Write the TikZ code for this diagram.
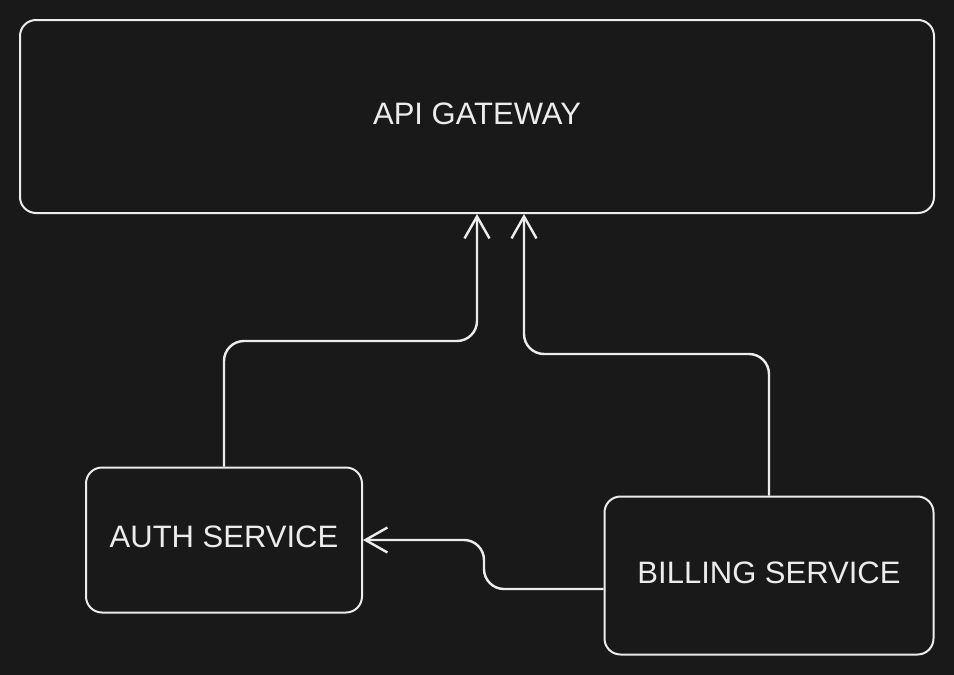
\documentclass[tikz,border=0pt]{standalone}
\usepackage{fontspec}
\setmainfont{Liberation Sans}
\usetikzlibrary{arrows.meta}
\definecolor{bgdark}{HTML}{191919}
\definecolor{inkwhite}{HTML}{ECECEC}
\tikzset{
	svcbox/.style={draw=inkwhite, line width=2pt, rounded corners=16pt, text=inkwhite,
		font=\fontsize{31}{37}\selectfont, inner sep=0pt, text depth=6pt},
	conn/.style={draw=inkwhite, line width=2.4pt, rounded corners=20pt,
		-{Straight Barb[length=22pt, width=25pt, line width=2.4pt]}}
}
\begin{document}
\begin{tikzpicture}[x=1pt, y=-1pt]
		%%%%% START %%%%%
		
		\fill[bgdark] (0, 0) rectangle (954, 675);
		\useasboundingbox (0, 0) rectangle (954, 675);
		
		\node[svcbox, minimum width=914pt, minimum height=193pt] (gw) at (477, 116.5) {API GATEWAY};
		\node[svcbox, minimum width=276pt, minimum height=145pt] (auth) at (224, 540) {AUTH SERVICE};
		\node[svcbox, minimum width=329pt, minimum height=158pt] (billing) at (769, 575.5) {BILLING SERVICE};
		
		\coordinate (j1) at (477, 341);
		\coordinate (j2) at (524, 354);
		\coordinate (j3) at (484, 589);
		\coordinate (j4) at (484, 540);
		
		\draw[conn] (auth.north) |- (j1) -- (j1 |- gw.south);
		\draw[conn] (billing.north) |- (j2) -- (j2 |- gw.south);
		\draw[conn] (j3 -| billing.west) -- (j3) -- (j4) -- (auth.east |- j4);
		
		%%%%% END %%%%%
	\end{tikzpicture}
\end{document}
